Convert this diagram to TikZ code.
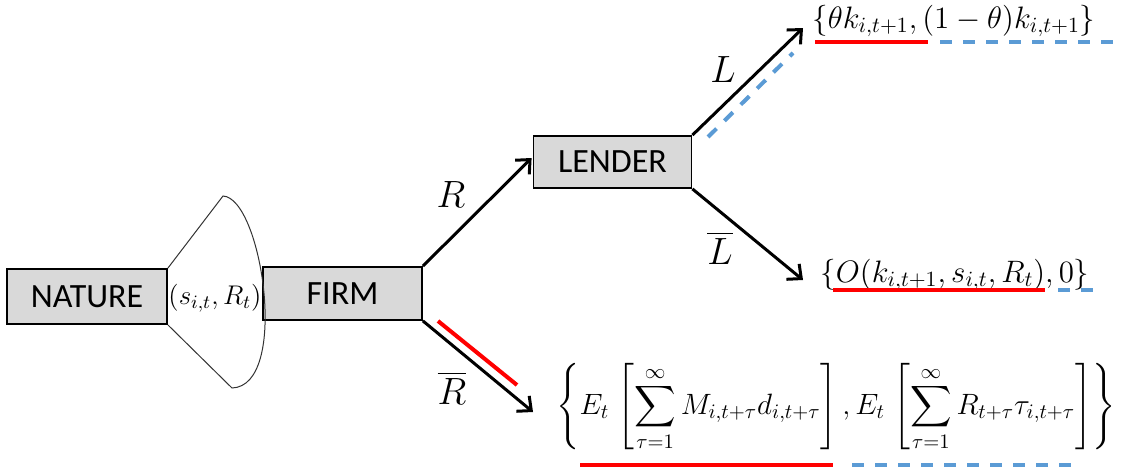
\RequirePackage{fix-cm}
\documentclass[tikz,border=0pt]{standalone}
\usepackage{amsmath}
\usepackage{fontspec}
\newfontfamily\boxfont{Carlito}
\usetikzlibrary{arrows.meta}
\definecolor{boxgray}{HTML}{D9D9D9}
\definecolor{ulred}{HTML}{FF0000}
\definecolor{ulblue}{HTML}{5B9BD5}
\begin{document}
\begin{tikzpicture}[x=0.5pt,y=-0.5pt,
  player/.style={draw=black, line width=0.9pt, fill=boxgray, minimum width=79.5pt, minimum height=26.5pt, inner sep=0pt, font=\boxfont\fontsize{17}{19}\selectfont},
  move/.style={line width=1.5pt, -{Straight Barb[length=5.5pt,width=10pt]}},
  lbl/.style={font=\fontsize{19}{22}\selectfont, inner sep=0pt},
  pay/.style={font=\fontsize{15.5}{18}\selectfont, inner sep=0pt},
  redul/.style={draw=ulred, line width=2pt},
  blueul/.style={draw=ulblue, line width=2pt, dash pattern=on 6pt off 5.5pt},
]
\useasboundingbox (0,0) rectangle (1124,466);

% players
\node[player, minimum width=80pt, minimum height=27.5pt] (nature) at (87,296.5) {NATURE};
\node[player] (firm) at (342.5,293.5) {FIRM};
\node[player, minimum width=79pt, minimum height=26pt] (lender) at (612.5,162) {LENDER};

% nature's cone
\coordinate (ctop) at (223,196);
\coordinate (cbot) at (232,388);
\draw[line width=0.5pt, black!80] (nature.north east) -- (ctop) .. controls (262,198) and (290,386) .. (cbot) -- (nature.south east);
\node[font=\fontsize{13.5}{15}\selectfont, inner sep=0pt] (signal) at (215,298) {$(s_{i,t},R_t)$};

% payoffs
\node[pay, anchor=base west] (top) at (812,28) {$\{\theta k_{i,t+1},(1-\theta)k_{i,t+1}\}$};
\node[pay, anchor=base west] (mid) at (820,282) {$\{O(k_{i,t+1},s_{i,t},R_t),0\}$};
\node[pay, font=\fontsize{14.7}{18}\selectfont, anchor=west] (bot) at (556,407) {$\displaystyle\left\{E_t\;\Biggl[\sum_{\tau=1}^{\infty}M_{i,t+\tau}d_{i,t+\tau}\Biggr]\,,E_t\;\Biggl[\sum_{\tau=1}^{\infty}R_{t+\tau}\tau_{i,t+\tau}\Biggr]\right\}$};

% moves
\draw[move] (firm.north east) -- ([shift={(-1,-4)}]lender.west);
\draw[move] (lender.north east) -- ([shift={(-9,0)}]top.base west);
\draw[move] (lender.south east) -- ([shift={(-17,-2)}]mid.base west);
\draw[move] (firm.south east) -- ([shift={(-23,5)}]bot.west);

% move labels
\node[lbl] (lR) at (451,195) {$R$};
\node[lbl] (lL) at (723,70) {$L$};
\node[lbl] (lLb) at (720,248) {$\overline{L}$};
\node[lbl] (lRb) at (452,388) {$\overline{R}$};

% highlights
\draw[redul] (438,321) -- (517,385);
\draw[blueul] (708,137) -- (793,53);
\draw[redul] (815,42) -- (928,42);
\draw[blueul] (940,42) -- (1117,42);
\draw[redul] (833,290) -- (1045,290);
\draw[blueul] (1058,290) -- (1094,290);
\draw[redul] (580,465) -- (833,465);
\draw[blueul] (852,465) -- (1078,465);
\end{tikzpicture}
\end{document}
